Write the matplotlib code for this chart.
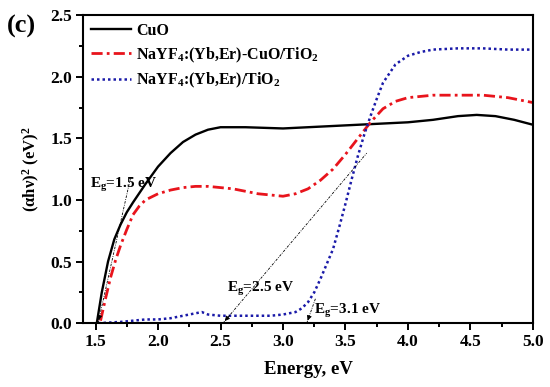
import matplotlib
matplotlib.use("Agg")
import matplotlib.pyplot as plt
from matplotlib.ticker import MultipleLocator

plt.rcParams['font.family'] = ['Liberation Serif', 'DejaVu Serif']
plt.rcParams['font.weight'] = 'bold'
plt.rcParams['mathtext.fontset'] = 'custom'
plt.rcParams['mathtext.rm'] = 'Liberation Serif:bold'
plt.rcParams['mathtext.it'] = 'Liberation Serif:bold'
plt.rcParams['mathtext.bf'] = 'Liberation Serif:bold'
plt.rcParams['mathtext.default'] = 'rm'

# Data
cuo_x = [1.51, 1.55, 1.60, 1.65, 1.70, 1.75, 1.80, 1.90, 2.00, 2.10, 2.20, 2.30, 2.40, 2.50,
         2.70, 3.00, 3.20, 3.40, 3.60, 3.80, 4.00, 4.20, 4.40, 4.55, 4.70, 4.85, 5.00]
cuo_y = [0.0, 0.25, 0.50, 0.68, 0.80, 0.90, 0.98, 1.13, 1.27, 1.38, 1.47, 1.53, 1.57, 1.59,
         1.59, 1.58, 1.59, 1.60, 1.61, 1.62, 1.63, 1.65, 1.68, 1.69, 1.68, 1.65, 1.61]

mix_x = [1.54, 1.58, 1.62, 1.66, 1.70, 1.75, 1.80, 1.85, 1.90, 2.00, 2.10, 2.20, 2.30, 2.40,
         2.50, 2.60, 2.70, 2.80, 2.90, 3.00, 3.10, 3.20, 3.30, 3.40, 3.50, 3.60, 3.70, 3.80,
         3.90, 4.00, 4.20, 4.40, 4.60, 4.80, 5.00]
mix_y = [0.02, 0.20, 0.37, 0.51, 0.63, 0.76, 0.88, 0.95, 1.00, 1.05, 1.08, 1.10, 1.11, 1.11,
         1.10, 1.09, 1.07, 1.05, 1.04, 1.03, 1.05, 1.09, 1.16, 1.25, 1.37, 1.50, 1.63, 1.74,
         1.80, 1.83, 1.85, 1.85, 1.85, 1.83, 1.79]

tio_x = [1.52, 1.70, 1.80, 1.90, 2.00, 2.10, 2.20, 2.30, 2.35, 2.40, 2.50, 2.70, 2.90, 3.00,
         3.10, 3.15, 3.20, 3.25, 3.30, 3.35, 3.40, 3.45, 3.50, 3.55, 3.60, 3.65, 3.70, 3.75,
         3.80, 3.90, 4.00, 4.10, 4.20, 4.40, 4.60, 4.80, 5.00]
tio_y = [0.0, 0.01, 0.02, 0.03, 0.03, 0.04, 0.06, 0.08, 0.09, 0.07, 0.06, 0.06, 0.06, 0.07,
         0.09, 0.12, 0.17, 0.25, 0.36, 0.48, 0.60, 0.78, 0.97, 1.17, 1.36, 1.53, 1.68, 1.82,
         1.95, 2.10, 2.17, 2.20, 2.22, 2.23, 2.23, 2.22, 2.22]

labels = ['CuO', 'NaYF$_4$:(Yb,Er)-CuO/TiO$_2$', 'NaYF$_4$:(Yb,Er)/TiO$_2$']

tan_x = [[1.52, 1.78], [2.52, 3.67], [3.19, 3.26]]
tan_y = [[0.0, 1.18], [0.0, 1.38], [0.0, 0.20]]
eg_labels = ['E$_g$=1.5 eV', 'E$_g$=2.5 eV', 'E$_g$=3.1 eV']
eg_pos = [(1.455, 1.10), (2.555, 0.25), (3.25, 0.075)]

fig = plt.figure(figsize=(5.5, 3.87), dpi=100)
ax = fig.add_axes([0.151, 0.165, 0.818, 0.796])

ax.plot(cuo_x, cuo_y, color='black', lw=1.7, ls='-', label=labels[0])
ax.plot(mix_x, mix_y, color='#e8141c', lw=2.0, ls=(0, (4, 1.5, 1, 1.5)), label=labels[1])
ax.plot(tio_x, tio_y, color='#1a1aa8', lw=1.8, ls=(0, (1, 1.2)), label=labels[2])

for tx, ty in zip(tan_x, tan_y):
    ax.plot(tx, ty, color='black', lw=0.6, ls=(0, (3, 1.5, 1, 1.5)))
    dx = tx[1] - tx[0]
    dy = ty[1] - ty[0]
    f = 0.08 / max(dy, 0.2)
    ax.annotate('', xy=(tx[0], ty[0]), xytext=(tx[0] + dx * f, ty[0] + dy * f),
                arrowprops=dict(arrowstyle='-|>', color='black', lw=0.6, mutation_scale=7))

for lab, (px, py) in zip(eg_labels, eg_pos):
    ax.text(px, py, lab, fontsize=11, fontweight='bold', ha='left', va='baseline')

ax.set_xlim(1.4, 5.0)
ax.set_ylim(0.0, 2.5)
ax.xaxis.set_major_locator(MultipleLocator(0.5))
ax.xaxis.set_minor_locator(MultipleLocator(0.25))
ax.yaxis.set_major_locator(MultipleLocator(0.5))
ax.yaxis.set_minor_locator(MultipleLocator(0.25))
ax.tick_params(which='both', direction='out', top=False, right=False, width=1.4)
ax.tick_params(which='major', length=5, labelsize=12.5, pad=3)
ax.tick_params(which='minor', length=3)
for lab in ax.get_xticklabels() + ax.get_yticklabels():
    lab.set_fontweight('bold')
for s in ax.spines.values():
    s.set_linewidth(1.5)

ax.set_xlabel('Energy, eV', fontsize=13.5, fontweight='bold', labelpad=8)
ax.set_ylabel('(\u03b1h\u03bd)$^2$ (eV)$^2$', fontsize=12, fontweight='bold', labelpad=6)

leg = ax.legend(loc='upper left', frameon=False, fontsize=11.5, handlelength=2.5,
                handletextpad=0.3, borderaxespad=0.2, borderpad=0.3, labelspacing=0.4)
for t in leg.get_texts():
    t.set_fontweight('bold')

fig.text(0.012, 0.962, '(c)', fontsize=19, fontweight='bold', ha='left', va='top')

fig.savefig('out.png', dpi=100)
